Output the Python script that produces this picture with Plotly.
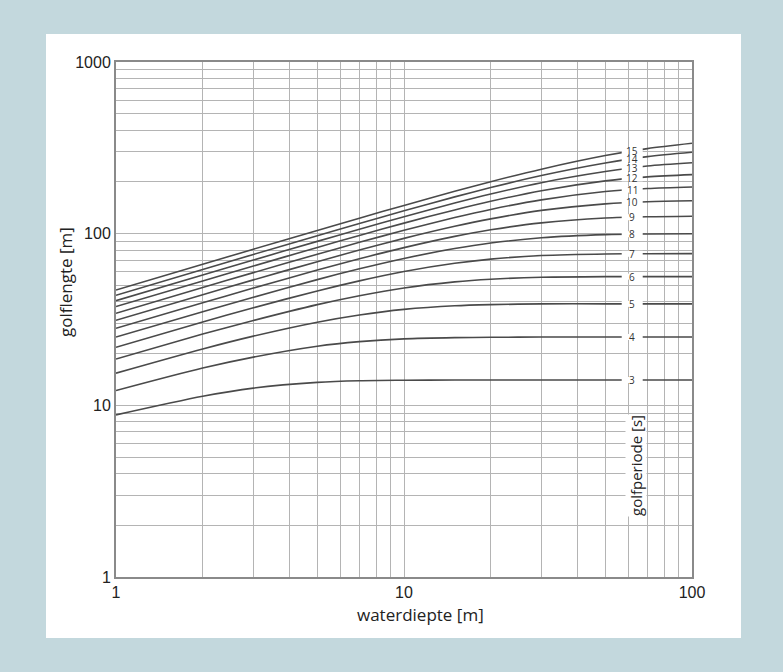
import numpy as np
import plotly.graph_objects as go

# water depth [m]
depth = [1, 2, 3, 5, 7, 10, 15, 20, 30, 50, 70, 100]

# wave length [m] per wave period
periods = [3, 4, 5, 6, 7, 8, 9, 10, 11, 12, 13, 14, 15]
L_T3 = [8.8, 11.3, 12.6, 13.6, 13.9, 14.0, 14.05, 14.05, 14.05, 14.05, 14.05, 14.05]
L_T4 = [12.2, 16.5, 19.1, 22.1, 23.5, 24.4, 24.8, 24.9, 25.0, 25.0, 25.0, 25.0]
L_T5 = [15.4, 21.3, 25.3, 30.5, 33.6, 36.2, 38.0, 38.6, 39.0, 39.0, 39.0, 39.0]
L_T6 = [18.6, 26.0, 31.2, 38.6, 43.5, 48.3, 52.4, 54.3, 55.7, 56.2, 56.2, 56.2]
L_T7 = [21.8, 30.6, 37.0, 46.4, 53.1, 60.2, 67.2, 71.1, 74.6, 76.2, 76.4, 76.5]
L_T8 = [25.0, 35.1, 42.6, 54.0, 62.4, 71.7, 81.9, 88.2, 94.7, 98.7, 99.6, 99.9]
L_T9 = [28.1, 39.6, 48.2, 61.4, 71.4, 82.9, 96.4, 105.3, 115.6, 123.3, 125.4, 126.3]
L_T10 = [31.3, 44.1, 53.8, 68.7, 80.3, 93.9, 110.4, 122.0, 136.6, 149.2, 153.5, 155.4]
L_T11 = [34.4, 48.6, 59.3, 75.9, 89.0, 104.6, 124.1, 138.4, 157.4, 175.9, 183.2, 187.1]
L_T12 = [37.6, 53.0, 64.8, 83.1, 97.6, 115.2, 137.5, 154.4, 178.0, 203.0, 214.2, 220.9]
L_T13 = [40.7, 57.4, 70.2, 90.2, 106.2, 125.6, 150.7, 170.1, 198.2, 230.0, 248.0, 259.0]
L_T14 = [43.8, 61.9, 75.7, 97.3, 114.7, 135.9, 163.8, 185.6, 218.1, 258.0, 281.0, 298.0]
L_T15 = [47.0, 66.3, 81.2, 104.4, 123.1, 146.1, 176.6, 200.8, 237.5, 285.0, 313.0, 336.0]

series = [L_T3, L_T4, L_T5, L_T6, L_T7, L_T8, L_T9, L_T10, L_T11, L_T12, L_T13, L_T14, L_T15]

x_tickvals = [1, 2, 3, 4, 5, 6, 7, 8, 9, 10, 20, 30, 40, 50, 60, 70, 80, 90, 100]
x_ticktext = ["1"] + [""] * 8 + ["10"] + [""] * 8 + ["100"]
y_tickvals = ([1, 2, 3, 4, 5, 6, 7, 8, 9] + [10, 20, 30, 40, 50, 60, 70, 80, 90]
              + [100, 200, 300, 400, 500, 600, 700, 800, 900] + [1000])
y_ticktext = (["1"] + [""] * 8 + ["10"] + [""] * 8 + ["100"] + [""] * 8 + ["1000"])

label_depth = 62

BG = "#c3d8dd"
CURVE = "#4a4a4a"
GRID = "#b4b4b4"

fig = go.Figure()
for T, L in zip(periods, series):
    fig.add_trace(go.Scatter(
        x=depth, y=L, mode="lines",
        line=dict(color=CURVE, width=1.6, shape="spline", smoothing=0.8),
        name=f"{T} s", showlegend=False, hoverinfo="skip"))

# label positions on each curve (log-space interpolation of the data)
label_y = [float(10 ** np.interp(np.log10(label_depth), np.log10(depth), np.log10(L)))
           for L in series]

# white gaps in the curves behind the labels
fig.add_trace(go.Scatter(
    x=[label_depth] * len(periods), y=label_y, mode="markers",
    marker=dict(symbol="line-ew", size=15, color="white",
                line=dict(color="white", width=6)),
    showlegend=False, hoverinfo="skip"))

annotations = []
for T, ly in zip(periods, label_y):
    annotations.append(dict(
        x=np.log10(label_depth), y=float(np.log10(ly)), xref="x", yref="y",
        xanchor="center", yanchor="middle",
        text=str(T), showarrow=False,
        font=dict(family="Open Sans", size=10, color="#333333")))

W, H = 783, 672
ml, mr, mt, mb = 116, 91, 62, 95
pw, ph = W - ml - mr, H - mt - mb

def px(xp):
    return (xp - ml) / pw

def py(yp):
    return (H - mb - yp) / ph

annotations += [
    dict(x=px(65), y=py(282), xref="paper", yref="paper", text="golflengte [m]",
         textangle=-90, showarrow=False, xanchor="center", yanchor="middle",
         font=dict(family="Open Sans", size=17, color="#222222")),
    dict(x=px(420), y=py(614), xref="paper", yref="paper", text="waterdiepte [m]",
         showarrow=False, xanchor="center", yanchor="middle",
         font=dict(family="Open Sans", size=17, color="#222222")),
    dict(x=px(636), y=py(466), xref="paper", yref="paper", text="golfperiode [s]",
         textangle=-90, showarrow=False, bgcolor="white", borderpad=0,
         xanchor="center", yanchor="middle",
         font=dict(family="Open Sans", size=15, color="#222222")),
]

fig.update_layout(
    width=W, height=H,
    margin=dict(l=ml, r=mr, t=mt, b=mb),
    paper_bgcolor=BG, plot_bgcolor="white",
    annotations=annotations,
    shapes=[dict(type="rect", xref="paper", yref="paper",
                 x0=px(46), x1=px(741), y0=py(638), y1=py(34),
                 fillcolor="white", line=dict(width=0), layer="below")],
)
fig.update_xaxes(type="log", range=[0, 2], tickvals=x_tickvals, ticktext=x_ticktext,
                 showgrid=True, gridcolor=GRID, gridwidth=1,
                 showline=True, mirror=True, linecolor="#8a8a8a", linewidth=2,
                 ticks="", zeroline=False,
                 tickfont=dict(family="Liberation Sans", size=16, color="#222222"))
fig.update_yaxes(type="log", range=[0, 3], tickvals=y_tickvals, ticktext=y_ticktext,
                 showgrid=True, gridcolor=GRID, gridwidth=1,
                 showline=True, mirror=True, linecolor="#8a8a8a", linewidth=2,
                 ticks="", zeroline=False,
                 tickfont=dict(family="Liberation Sans", size=16, color="#222222"))

fig.write_html(
    "out.html",
    config={"displayModeBar": False},
    post_script=("document.body.style.margin='0';"
                 "document.body.style.padding='0';"
                 "document.body.style.overflow='hidden';"
                 f"document.body.style.background='{BG}';"),
)
